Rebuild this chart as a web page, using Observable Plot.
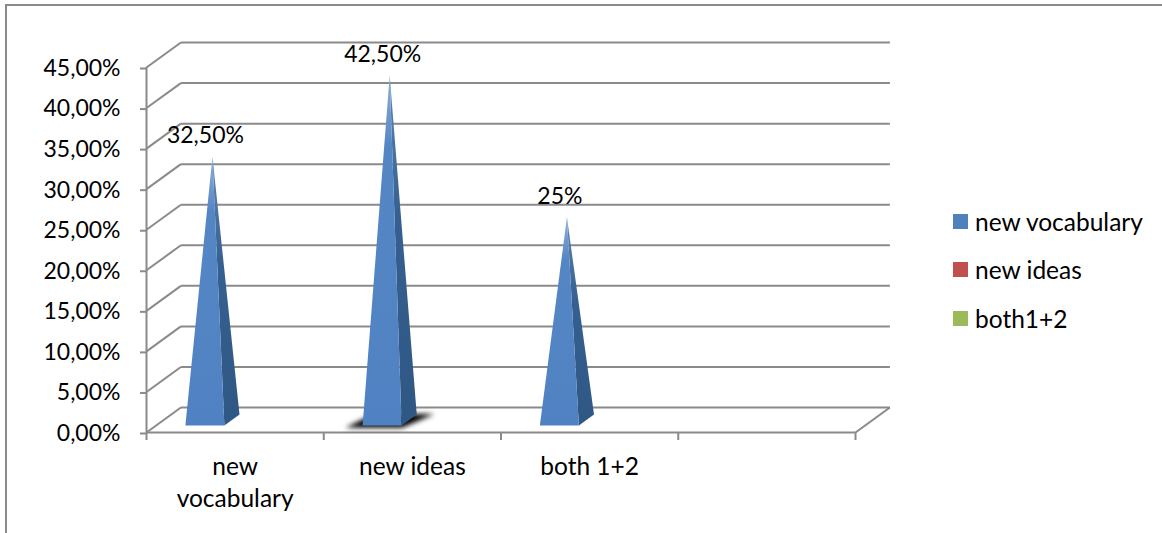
<!DOCTYPE html>
<html>
<head>
<meta charset="utf-8">
<script src="https://cdn.jsdelivr.net/npm/d3@7"></script>
<script src="https://cdn.jsdelivr.net/npm/@observablehq/plot@0.6"></script>
<style>
  html, body { margin: 0; background: #fff; overflow: hidden; }
  #chart { position: relative; width: 1162px; height: 533px; font-family: Lato, sans-serif; color: #000; }
  #chart svg { position: absolute; left: 0; top: 0; }
  #frame { position: absolute; left: 5px; top: 4px; right: -4px; bottom: -4px; border: 2px solid #8a8a8a; }
  #legend { position: absolute; left: 953px; top: 197px; font-size: 24.5px; }
  #legend div { display: flex; align-items: center; height: 48.5px; }
  #legend i { display: block; width: 15px; height: 15px; margin-right: 7px; }
</style>
</head>
<body>
<div id="chart"><div id="frame"></div></div>
<script>
// Share of answers per category, in percent
const categories = ["new\nvocabulary", "new ideas", "both 1+2"];
const values = [32.5, 42.5, 25];
const valueLabels = ["32,50%", "42,50%", "25%"];
const yTicks = [0, 5, 10, 15, 20, 25, 30, 35, 40, 45];
const xTicks = [0, 1, 2, 3, 4];
const legendNames = ["new vocabulary", "new ideas", "both1+2"];
const legendColors = ["#4f81bd", "#c0504d", "#9bbb59"];

// Oblique projection: how far the back wall sits from the front plane, in data units
const depthX = 0.194;
const depthY = 3.08;
const project = (x, y, depth) => ({x: x + depth * depthX, y: y + depth * depthY});

// Only the first of three series has values, so each pyramid sits left of its slot's centre
const slotOffset = 0.275;
const halfWidth = 0.11;
const depthFront = 0.28;
const depthBack = 0.72;

const pyramids = values.map((v, i) => {
  const c = i + slotOffset;
  return {
    front: [project(c - halfWidth, 0, depthFront), project(c + halfWidth, 0, depthFront), project(c, v, 0.5)],
    side: [project(c + halfWidth, 0, depthFront), project(c + halfWidth, 0, depthBack), project(c, v, 0.5)],
    apex: project(c, v, 0.5),
    label: valueLabels[i]
  };
});

// Soft shadow on the floor beneath the second pyramid
const shadow = [
  project(1 + slotOffset - 0.19, 0, 0.19),
  project(1 + slotOffset + 0.13, 0, 0.19),
  project(1 + slotOffset + 0.205, 0, 0.74),
  project(1 + slotOffset - 0.137, 0, 0.74)
];

const faces = key => pyramids.flatMap((p, id) => p[key].map(q => ({...q, id})));
const grey = "#8a8a8a";
const lineWidth = 2;

function gradients() {
  const defs = d3.create("svg:defs");
  const add = (id, stops) => {
    const g = defs.append("linearGradient").attr("id", id).attr("x1", 0).attr("y1", 0).attr("x2", 0).attr("y2", 1);
    stops.forEach(([o, c]) => g.append("stop").attr("offset", o).attr("stop-color", c));
  };
  add("pyramid-front", [[0, "#8fb0d9"], [0.2, "#5586c4"], [1, "#5082c3"]]);
  add("pyramid-side", [[0, "#5f86b5"], [0.4, "#35608f"], [1, "#2f5784"]]);
  return defs.node();
}

const chart = Plot.plot({
  width: 1162,
  height: 533,
  marginLeft: 146,
  marginRight: 307,
  marginTop: 67,
  marginBottom: 101,
  style: {fontFamily: "Lato, sans-serif", fontSize: "23px", background: "transparent", color: "#000"},
  x: {domain: [0, 4], label: null},
  y: {domain: [0, 45], label: null},
  marks: [
    gradients,
    // Back wall gridlines
    Plot.link(yTicks, {
      x1: 0 + depthX, x2: 4 + depthX,
      y1: d => d + depthY, y2: d => d + depthY,
      stroke: grey, strokeWidth: lineWidth
    }),
    // Side wall connectors
    Plot.link(yTicks, {
      x1: 0, x2: depthX,
      y1: d => d, y2: d => d + depthY,
      stroke: grey, strokeWidth: lineWidth
    }),
    // Right edge of the floor
    Plot.link([0], {
      x1: 4, x2: 4 + depthX,
      y1: d => d, y2: d => d + depthY,
      stroke: grey, strokeWidth: lineWidth
    }),
    Plot.ruleX([0], {y1: 0, y2: 45, stroke: grey, strokeWidth: lineWidth}),
    Plot.ruleY([0], {x1: 0, x2: 4, stroke: grey, strokeWidth: lineWidth}),
    Plot.axisY({
      ticks: yTicks, tickSize: 6, tickPadding: 20, stroke: grey, strokeWidth: lineWidth, fill: "#000",
      tickFormat: d => d.toFixed(2).replace(".", ",") + "%", label: null, dy: 1
    }),
    Plot.axisX({ticks: xTicks, tickSize: 8, stroke: grey, strokeWidth: lineWidth, tickFormat: () => "", label: null}),
    Plot.line(shadow.concat(shadow[0]), {
      x: "x", y: "y", fill: "#000", stroke: "none",
      render(index, scales, values, dimensions, context, next) {
        const g = next(index, scales, values, dimensions, context);
        g.style.filter = "blur(2.5px)";
        return g;
      }
    }),
    Plot.line(faces("side"), {x: "x", y: "y", z: "id", fill: "url(#pyramid-side)", stroke: "none"}),
    Plot.line(faces("front"), {x: "x", y: "y", z: "id", fill: "url(#pyramid-front)", stroke: "none"}),
    Plot.text(pyramids, {
      x: d => d.apex.x, y: d => d.apex.y, text: "label",
      dx: -7, dy: -21, fill: "#000"
    }),
    Plot.text(categories, {
      x: (d, i) => i + 0.5, y: () => 0, text: d => d,
      dy: 20, lineAnchor: "top", lineHeight: 1.3, fontSize: 24.5, fill: "#000"
    })
  ]
});

const root = document.getElementById("chart");
root.appendChild(chart);

const legend = document.createElement("div");
legend.id = "legend";
legendNames.forEach((name, i) => {
  const row = document.createElement("div");
  const swatch = document.createElement("i");
  swatch.style.background = legendColors[i];
  row.appendChild(swatch);
  row.appendChild(document.createTextNode(name));
  legend.appendChild(row);
});
root.appendChild(legend);
</script>
</body>
</html>
